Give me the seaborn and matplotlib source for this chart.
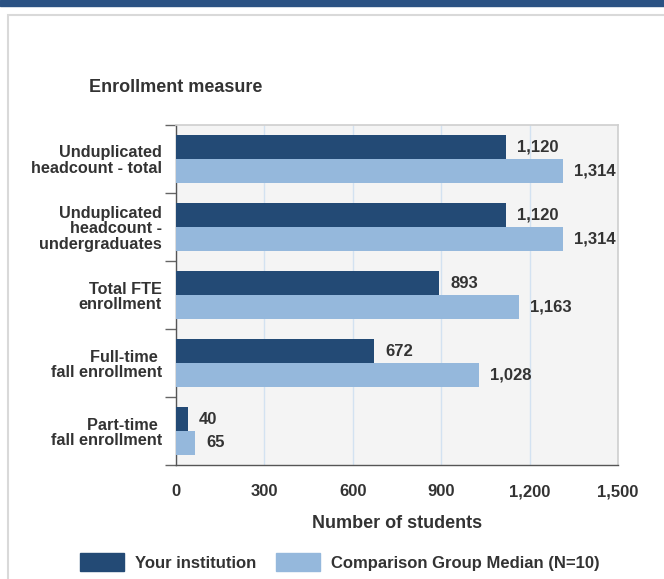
import matplotlib
matplotlib.use("Agg")
import matplotlib.pyplot as plt
import matplotlib.patches as mpatches
import pandas as pd
import seaborn as sns

measures = [
    "Unduplicated\nheadcount - total",
    "Unduplicated\nheadcount -\nundergraduates",
    "Total FTE\nenrollment",
    "Full-time \nfall enrollment",
    "Part-time \nfall enrollment",
]
your_institution = [1120, 1120, 893, 672, 40]
comparison_median = [1314, 1314, 1163, 1028, 65]
series = ["Your institution", "Comparison Group Median (N=10)"]
x_ticks = [0, 300, 600, 900, 1200, 1500]

dark = "#234a75"
light = "#95b8dc"
txt = "#333333"

df = pd.DataFrame({
    "measure": measures * 2,
    "students": your_institution + comparison_median,
    "series": [series[0]] * len(measures) + [series[1]] * len(measures),
})

sns.set_theme(style="white")
plt.rcParams["font.family"] = ["Liberation Sans", "DejaVu Sans"]
plt.rcParams["font.weight"] = "bold"

fig = plt.figure(figsize=(6.64, 5.79), dpi=100)

# page decoration: top band and panel border
fig.patches.append(mpatches.Rectangle((0, 1 - 6 / 579), 1, 6 / 579, transform=fig.transFigure,
                                      color="#2b5283", zorder=-2))
fig.patches.append(mpatches.Rectangle((8 / 664, -0.01), 1.0, 1 - 15 / 579 + 0.01, transform=fig.transFigure,
                                      facecolor="white", edgecolor="#d9d9d9", linewidth=1.5, zorder=-2))

ax = fig.add_axes([176 / 664, 1 - 465 / 579, 442 / 664, 340 / 579])
ax.set_facecolor("#f4f4f4")

sns.barplot(data=df, y="measure", x="students", hue="series", orient="h",
            palette=[dark, light], saturation=1, width=0.7, ax=ax, legend=False,
            linewidth=0, zorder=3)

for c in ax.containers:
    ax.bar_label(c, labels=[f"{v:,.0f}" for v in c.datavalues], padding=8,
                 fontsize=12, fontweight="bold", color=txt)

ax.set_xlim(0, 1500)
ax.set_ylim(4.5, -0.5)
ax.set_xticks(x_ticks)
ax.set_xticklabels([f"{v:,}" for v in x_ticks], fontsize=12, fontweight="bold", color=txt)
ax.tick_params(axis="x", length=0, pad=14)
ax.tick_params(axis="y", which="major", length=0, pad=10, labelsize=11.7, labelcolor=txt)
for lbl in ax.get_yticklabels():
    lbl.set_fontweight("bold")
    lbl.set_multialignment("right")
    lbl.set_linespacing(1.05)
ax.set_yticks([i + 0.5 for i in range(-1, len(measures))], minor=True)
ax.tick_params(axis="y", which="minor", length=8, width=1, color="#666666", left=True)

ax.grid(axis="x", color="#d3e2f1", linewidth=1, zorder=0)
ax.set_axisbelow(True)
for s in ["top", "right"]:
    ax.spines[s].set_color("#d0d0d0")
for s in ["left", "bottom"]:
    ax.spines[s].set_color("#555555")
    ax.spines[s].set_linewidth(1)

ax.set_ylabel("")
ax.set_xlabel("Number of students", fontsize=13, fontweight="bold", color=txt, labelpad=11)
fig.text(89 / 664, 1 - 88 / 579, "Enrollment measure", fontsize=13, fontweight="bold",
         color=txt, va="center", ha="left")

handles = [mpatches.Patch(color=dark, label=series[0]), mpatches.Patch(color=light, label=series[1])]
leg = fig.legend(handles=handles, loc="center", bbox_to_anchor=(0.512, 1 - 562 / 579), ncol=2,
                 frameon=False, handlelength=2.64, handleheight=1.3, columnspacing=1.15,
                 handletextpad=0.66, prop={"size": 12, "weight": "bold"})
for t in leg.get_texts():
    t.set_color(txt)

fig.savefig("out.png", dpi=100)
